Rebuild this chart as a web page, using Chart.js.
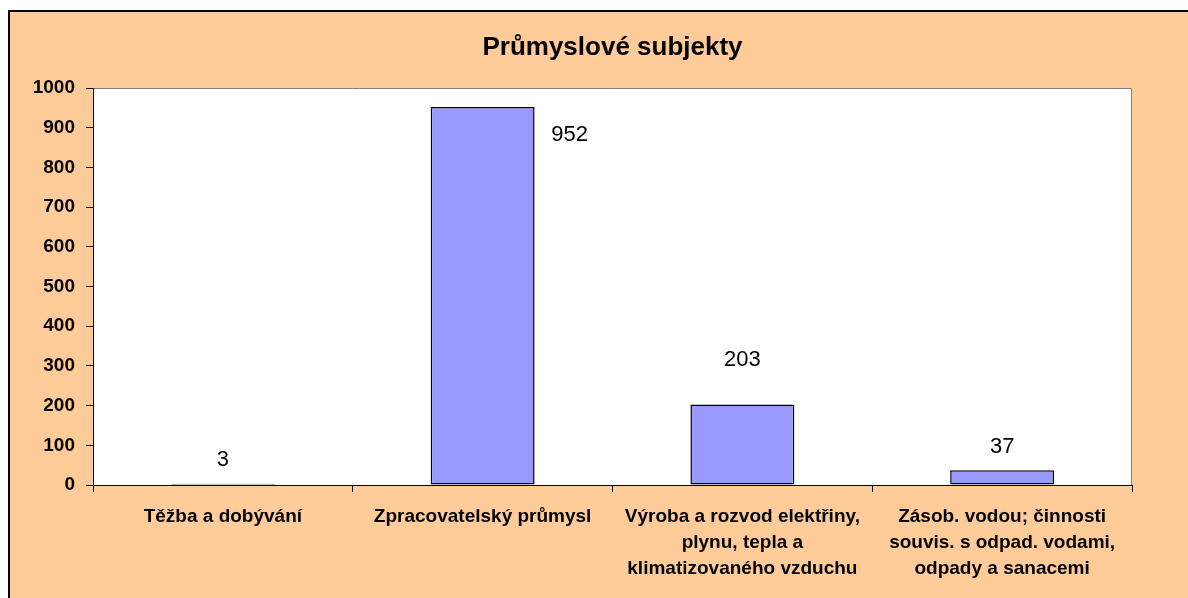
<html>
<head>
  <meta charset="utf-8">
  <title>Průmyslové subjekty</title>
  <script src="https://cdn.jsdelivr.net/npm/chart.js@4.4.0/dist/chart.umd.min.js"></script>
  <style>
    body { margin: 0; background: #ffffff; }
    .frame {
      position: absolute; left: 8px; top: 10px; width: 1200px; height: 600px;
      border-left: 2px solid #000; border-top: 2px solid #000;
      background: #FFCC99;
    }
    #chartCanvas { position: absolute; left: 11px; top: 12px; }
  </style>
</head>
<body>
<div class="frame"></div>
<canvas id="chartCanvas" width="1177" height="586"></canvas>
<script>
  // data
  const categories = [
    ['Těžba a dobývání'],
    ['Zpracovatelský průmysl'],
    ['Výroba a rozvod elektřiny,', 'plynu, tepla a', 'klimatizovaného vzduchu'],
    ['Zásob. vodou; činnosti', 'souvis. s odpad. vodami,', 'odpady a sanacemi']
  ];
  const values = [3, 952, 203, 37];
  const yTicks = [0, 100, 200, 300, 400, 500, 600, 700, 800, 900, 1000];

  const FONT = '"Liberation Sans", Arial, sans-serif';

  // label placement relative to top of each bar (as in the original)
  const labelOffsets = [[0, -24], [87, 28], [0, -44], [0, -23]];

  const plotBox = {
    id: 'plotBox',
    beforeDraw(chart) {
      const a = chart.chartArea, c = chart.ctx;
      c.save();
      c.fillStyle = '#ffffff';
      c.fillRect(a.left, a.top, a.right - a.left, a.bottom - a.top);
      c.strokeStyle = '#808080';
      c.lineWidth = 1;
      c.beginPath();
      c.moveTo(a.left, a.top + 0.5);
      c.lineTo(a.right - 0.5, a.top + 0.5);
      c.lineTo(a.right - 0.5, a.bottom);
      c.stroke();
      c.restore();
    }
  };

  const valueLabels = {
    id: 'valueLabels',
    afterDatasetsDraw(chart) {
      const c = chart.ctx;
      const meta = chart.getDatasetMeta(0);
      c.save();
      c.font = '22px ' + FONT;
      c.fillStyle = '#000';
      c.textAlign = 'center';
      c.textBaseline = 'middle';
      meta.data.forEach((bar, i) => {
        const off = labelOffsets[i];
        c.fillText(String(values[i]), bar.x + off[0], bar.y + off[1]);
      });
      c.restore();
    }
  };

  const ctx = document.getElementById('chartCanvas').getContext('2d');
  const chart = new Chart(ctx, {
    type: 'bar',
    data: {
      labels: categories,
      datasets: [{
        data: values,
        backgroundColor: '#9999FF',
        borderColor: '#000000',
        borderWidth: 1.5,
        borderSkipped: false,
        barPercentage: 0.4,
        categoryPercentage: 1.0
      }]
    },
    options: {
      responsive: false,
      animation: false,
      devicePixelRatio: 1,
      layout: { padding: { left: 0, top: 0, right: 56, bottom: 0 } },
      plugins: {
        legend: { display: false },
        tooltip: { enabled: false },
        title: {
          display: true,
          text: 'Průmyslové subjekty',
          fullSize: false,
          color: '#000',
          font: { family: FONT, size: 26, weight: 'bold', lineHeight: 1.2 },
          padding: { top: 20, bottom: 24.8 }
        }
      },
      scales: {
        x: {
          grid: { drawOnChartArea: false, color: '#000', tickLength: 7, offset: true },
          border: { color: '#000', width: 1 },
          ticks: {
            color: '#000',
            padding: 12,
            maxRotation: 0,
            autoSkip: false,
            font: { family: FONT, size: 19, weight: 'bold', lineHeight: 1.37 }
          },
          afterFit(scale) { scale.height = 113; }
        },
        y: {
          min: 0,
          max: 1000,
          afterBuildTicks(scale) { scale.ticks = yTicks.map(v => ({ value: v })); },
          grid: { drawOnChartArea: false, color: '#000', tickLength: 7 },
          border: { color: '#000', width: 1 },
          ticks: {
            color: '#000',
            padding: 11,
            callback: v => String(v),
            font: { family: FONT, size: 19, weight: 'bold' }
          },
          afterFit(scale) { scale.width = 82; }
        }
      }
    },
    plugins: [plotBox, valueLabels]
  });
</script>
</body>
</html>
